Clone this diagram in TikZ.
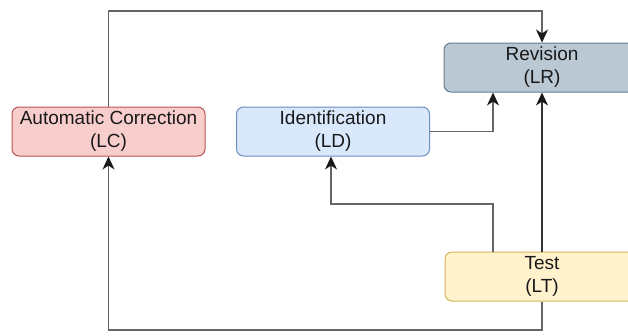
\documentclass[tikz,border=0pt]{standalone}
\usepackage{fontspec}
\setmainfont{Liberation Sans}
\usetikzlibrary{arrows.meta,positioning}

\definecolor{lcfill}{HTML}{F8CECC}
\definecolor{lcdraw}{HTML}{B85450}
\definecolor{ldfill}{HTML}{DAE8FC}
\definecolor{lddraw}{HTML}{6C8EBF}
\definecolor{lrfill}{HTML}{BAC8D3}
\definecolor{lrdraw}{HTML}{23445D}
\definecolor{ltfill}{HTML}{FFF2CC}
\definecolor{ltdraw}{HTML}{D6B656}

\begin{document}
\begin{tikzpicture}[x=1pt, y=-1pt,
        stage/.style = {draw, rounded corners=7pt, line width=1pt, minimum width=193pt, minimum height=49pt,
                        inner sep=0pt, align=center, font=\fontsize{19}{23}\selectfont, text=black!90},
        link/.style = {draw=black!60, line width=1.3pt,
                       -{Stealth[length=13pt,width=12pt,inset=4pt,color=black!90]}},]
        \clip (0,0) rectangle (628,335);
        \useasboundingbox (0,0) rectangle (628,335);

        \node[stage, fill=lcfill, draw=lcdraw] (lc) at (108.5,131.5) {Automatic Correction\\(LC)};
        \node[stage, fill=ldfill, draw=lddraw] (ld) at (333,131.5) {Identification\\(LD)};
        \node[stage, fill=lrfill, draw=lrdraw!70, minimum width=196pt] (lr) at (542,67.5) {Revision\\(LR)};
        \node[stage, fill=ltfill, draw=ltdraw, minimum width=194pt] (lt) at (542,276.5) {Test\\(LT)};

        \coordinate (top) at (108.5,11);
        \coordinate (mid) at (331,204);
        \coordinate (bot) at (542,330);

        \draw[link] (lc.north) -- (top) -| (lr.north);
        \draw[link] (ld.east) -| ([xshift=-49pt]lr.south);
        \draw[link] ([xshift=-49pt]lt.north) |- (mid) -- (mid |- ld.south);
        \draw[link, draw=black!80, line width=1.1pt] (lt.north) -- (lr.south);
        \draw[link] (lt.south) -- (bot) -| (lc.south);
    \end{tikzpicture}
\end{document}
